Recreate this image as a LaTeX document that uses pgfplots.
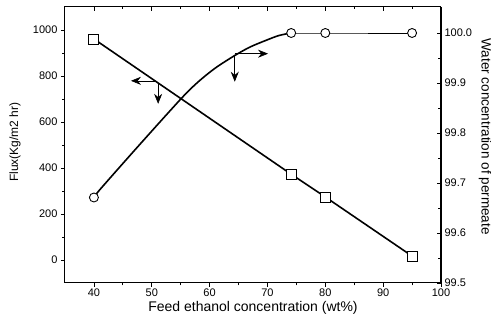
\documentclass[border=0pt]{standalone}
\usepackage{fontspec}
\setmainfont{Liberation Sans}
\usepackage{pgfplots}
\pgfplotsset{compat=1.18}
\usetikzlibrary{arrows.meta}
\begin{document}
\begin{tikzpicture}
\begin{axis}[scale only axis, width=376pt, height=276pt, at={(0,0)}, anchor=south west,
  xmin=35, xmax=100, ymin=-100, ymax=1100,
  xtick pos=bottom, ytick pos=left,
  xtick={40,50,...,100}, minor x tick num=1,
  ytick={0,200,...,1000}, minor y tick num=1,
  tick align=outside,
  major tick length=4pt, minor tick length=2.5pt,
  tick style={black, line width=0.7pt},
  axis line style={line width=1pt},
  /pgf/number format/assume math mode=true,
  /pgf/number format/1000 sep={},
  ticklabel style={font=\fontsize{11}{13}\selectfont},
  xticklabel style={yshift=2pt},
  xlabel={Feed ethanol concentration (wt\%)},
  ylabel={Flux(Kg/m2 hr)},
  xlabel style={font=\fontsize{14}{16}\selectfont, at={(axis description cs:0.5,-0.09)}, anchor=center},
  ylabel style={font=\fontsize{12}{14}\selectfont, at={(axis description cs:-0.133,0.51)}, anchor=center},
]
\addplot[line width=1.6pt, mark=square*, mark size=5pt, mark options={fill=white, draw=black, line width=0.9pt}]
  coordinates {(40,961)(74.1,373)(80,274)(95,17)};
\draw[line width=0.6pt, -{Stealth[length=10pt,width=8pt]}] (axis cs:50.96,779) -- (axis cs:46.4,779);
\draw[line width=0.6pt, -{Stealth[length=10pt,width=8pt]}] (axis cs:51.1,771) -- (axis cs:51.1,679);
\draw[line width=0.6pt, -{Stealth[length=10pt,width=8pt]}] (axis cs:64.35,897) -- (axis cs:70.1,897);
\draw[line width=0.6pt, -{Stealth[length=10pt,width=8pt]}] (axis cs:64.35,888) -- (axis cs:64.35,775);
\end{axis}
\begin{axis}[scale only axis, width=376pt, height=276pt, at={(0,0)}, anchor=south west,
  xmin=35, xmax=100, ymin=99.5, ymax=100.052,
  axis x line*=top, axis y line*=right,
  xtick={40,50,...,100}, minor x tick num=1, xticklabels={},
  ytick={99.5,99.6,99.7,99.8,99.9,100}, minor y tick num=1,
  tick align=inside,
  major tick length=4pt, minor tick length=2.5pt,
  tick style={black, line width=0.7pt},
  axis line style={line width=1pt},
  /pgf/number format/assume math mode=true,
  yticklabel style={font=\fontsize{11}{13}\selectfont, /pgf/number format/.cd, fixed, fixed zerofill, precision=1},
  ylabel={Water concentration of permeate},
  ylabel style={font=\fontsize{13.5}{16}\selectfont, rotate=180, at={(axis description cs:1.117,0.53)}, anchor=center},
]
\addplot[line width=1.6pt, smooth, no marks]
  coordinates {(40,99.671)(41.2,99.689)(48,99.778)(55.1,99.869)(58,99.902)(61,99.930)(64.35,99.955)(67,99.972)(69.9,99.986)(72,99.995)(74.1,100.0)};
\addplot[line width=0.8pt, no marks] coordinates {(74.1,100)(80,100)(95,100)};
\addplot[only marks, mark=*, mark size=4.5pt, mark options={fill=white, draw=black, line width=0.9pt}]
  coordinates {(40,99.671)(74.1,100)(80,100)(95,100)};
\end{axis}
\pgfresetboundingbox
\path (-65pt,-45pt) rectangle (426pt,283pt);
\end{tikzpicture}
\end{document}
